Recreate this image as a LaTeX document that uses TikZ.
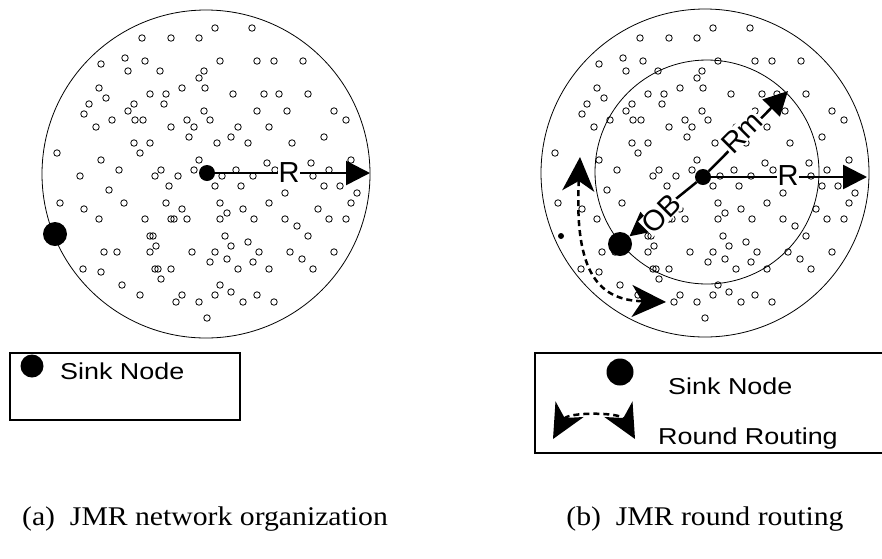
\documentclass[tikz,border=0pt]{standalone}
\usepackage{fontspec}
\setmainfont{Liberation Serif}[FakeStretch=1.1]
\newfontfamily\legendfont{Liberation Sans}[FakeStretch=1.17]
\newfontfamily\labelfont{Liberation Sans}
\usetikzlibrary{arrows.meta}

\tikzset{
  sensor/.style={circle, draw, line width=0.8pt, inner sep=0pt, minimum size=6.5pt},
  sinknode/.style={circle, fill=black, inner sep=0pt, minimum size=24pt},
  hub/.style={circle, fill=black, inner sep=0pt, minimum size=16pt},
  radiusarrow/.style={line width=2.5pt, -{Triangle[length=24pt,width=24pt]}},
  roundhead/.style={Stealth[length=34pt,width=32pt,inset=10pt]},
  roundarrow/.style={line width=2.5pt, dash pattern=on 6pt off 4pt, {Stealth[length=34pt,width=32pt,inset=10pt]}-{Stealth[length=34pt,width=32pt,inset=10pt]}},
  lbl/.style={font=\labelfont\fontsize{29}{30}\selectfont, fill=white, inner sep=0.5pt},
  legendbox/.style={draw, line width=2pt},
  legtext/.style={font=\legendfont\fontsize{23}{26}\selectfont, anchor=base west, inner sep=0pt},
  captext/.style={font=\fontsize{27}{30}\selectfont, anchor=base, inner sep=0pt}
}

% sensor positions (pixels, y downwards)
\def\sensorlist{215/28, 252/28, 142/38, 171/38, 199/38,
  125/58, 145/61, 220/61, 257/61, 274/61, 303/61, 101/64,
  128/71, 160/71, 204/71, 199/78, 99/88, 182/88, 205/88,
  106/98, 150/94, 166/94, 233/94, 264/94, 279/94, 308/94,
  89/104, 134/104, 164/104, 128/111, 204/111, 257/111, 287/111, 334/111, 84/114,
  112/120, 135/120, 143/120, 187/120, 210/120, 346/120,
  96/127, 171/127, 194/127, 238/127, 269/127, 189/137, 231/137, 324/137,
  134/143, 150/143, 217/143, 248/143, 292/143, 57/153, 140/153,
  101/160, 199/160, 351/160, 267/163, 311/163,
  119/170, 161/170, 194/170, 236/170, 329/170, 275/170,
  80/176, 155/176, 178/176, 222/176, 253/176, 313/176,
  169/186, 215/186, 241/186, 324/186, 340/186, 109/190, 285/193, 357/193,
  60/203, 124/203, 166/203, 220/203, 269/203, 351/203,
  84/209, 182/209, 227/213, 243/209, 318/209,
  99/219, 145/219, 171/219, 174/219, 187/219, 220/219, 254/219, 285/219, 329/219, 346/219,
  297/226, 150/236, 153/236, 225/236, 308/236, 248/242, 156/246, 231/246,
  104/252, 117/252, 150/252, 192/252, 215/252, 259/252, 290/252, 334/252,
  227/259, 302/259, 210/262, 253/262,
  83/269, 155/269, 158/269, 171/269, 238/269, 269/269, 313/269,
  101/272, 161/279, 122/285, 220/285, 231/292,
  140/295, 182/295, 215/295, 257/295, 176/302, 199/302, 243/302, 274/302, 207/318}

\begin{document}
\begin{tikzpicture}[x=1pt, y=-1pt]
\useasboundingbox (0,0) rectangle (882,558);

% (a) network organization
\draw[line width=0.8pt] (206,174) circle (164);
\foreach \px/\py in \sensorlist
  \node[sensor] at (\px,\py) {};
\node[hub] (hubA) at (207,173) {};
\node[sinknode] (sinkA) at (55,234) {};
\coordinate (edgeA) at (370,173);
\draw[radiusarrow] (hubA) -- (edgeA);
\node[lbl] (rA) at (289,173) {R};

\draw[legendbox] (10,353) rectangle (240,420);
\node[sinknode, minimum size=23pt] (legsinkA) at (32,366) {};
\node[legtext] (legtxtA) at (60,379) {Sink Node};

\node[captext] (capA) at (205,525) {(a)~~JMR network organization};

% (b) round routing
\draw[line width=0.8pt] (705,173) circle (164);
\draw[line width=0.8pt] (707,172) circle (112);
\begin{scope}[xshift=498]
  \foreach \px/\py in \sensorlist
    \node[sensor] at (\px,\py) {};
\end{scope}
\fill (561,236) circle (3);
\node[hub] (hubB) at (703,177) {};
\node[sinknode] (sinkB) at (620,244) {};
\coordinate (edgeB) at (867,177);
\coordinate (midB) at (788,91);
\draw[radiusarrow] (hubB) -- (edgeB);
\draw[radiusarrow] (hubB) -- (midB);
\draw[radiusarrow] (hubB) -- (sinkB);
\node[lbl] (rB) at (788,176) {R};
\node[lbl, rotate=45] (rmB) at (742,132) {Rm};
\node[lbl, rotate=45] (obB) at (661,214) {OB};

\coordinate (roundS) at (580,157);
\coordinate (roundE) at (666,302);
\draw[roundarrow] (roundS) .. controls (574,275) and (600,300) .. (roundE);

\draw[legendbox] (535,353) rectangle (892,453);
\node[sinknode, minimum size=27pt] (legsinkB) at (620,372) {};
\node[legtext] (legtxtB) at (668,394) {Sink Node};
\coordinate (legS) at (553,439);
\coordinate (legE) at (635,439);
\draw[roundarrow] (legS) .. controls (568,412) and (620,412) .. (legE);
\node[legtext] (legtxtC) at (658,444) {Round Routing};

\node[captext] (capB) at (705,525) {(b)~~JMR round routing};
\end{tikzpicture}
\end{document}
